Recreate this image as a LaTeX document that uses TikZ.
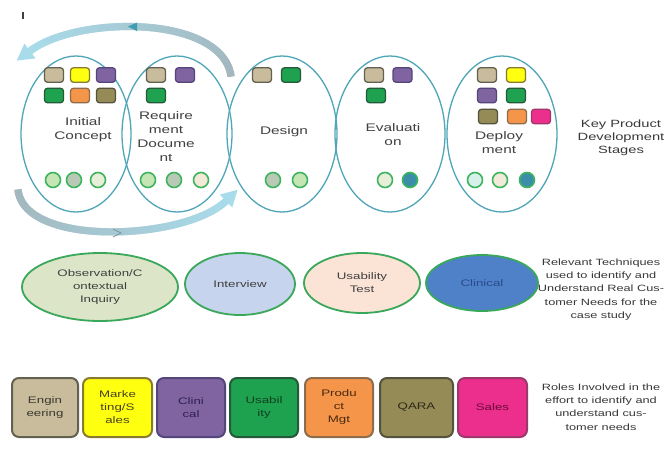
\documentclass[tikz,border=0pt]{standalone}
\usepackage{fontspec}
\setmainfont{Liberation Sans}[FakeStretch=1.4]
\usetikzlibrary{shapes.geometric,decorations.markings}

% outlines and bands
\definecolor{stageline}{HTML}{4FA6B8}
\definecolor{arcblue}{HTML}{A8DCEB}
\definecolor{arcgray}{HTML}{A3B7BE}
\definecolor{arcteal}{HTML}{3E9EB0}
\definecolor{dotgreen}{HTML}{3DB55E}
\definecolor{techgreen}{HTML}{3AA85A}
\definecolor{labelgray}{HTML}{404040}
\definecolor{sidegray}{HTML}{383838}
% role colours (fill / border / text)
\definecolor{tanF}{HTML}{C9BC9C}\definecolor{tanB}{HTML}{62604F}\definecolor{tanT}{HTML}{3A3A30}
\definecolor{yelF}{HTML}{FFFF10}\definecolor{yelB}{HTML}{8A7A2E}\definecolor{yelT}{HTML}{4A4020}
\definecolor{purF}{HTML}{8064A2}\definecolor{purB}{HTML}{54467A}\definecolor{purT}{HTML}{2E2050}
\definecolor{grnF}{HTML}{1FA24F}\definecolor{grnB}{HTML}{245A3A}\definecolor{grnT}{HTML}{0F4020}
\definecolor{ornF}{HTML}{F5954A}\definecolor{ornB}{HTML}{8E6C4C}\definecolor{ornT}{HTML}{4A2A10}
\definecolor{olvF}{HTML}{958B57}\definecolor{olvB}{HTML}{55533F}\definecolor{olvT}{HTML}{2E2A18}
\definecolor{pnkF}{HTML}{EC2E8C}\definecolor{pnkB}{HTML}{9C386C}\definecolor{pnkT}{HTML}{6A0A3A}
% technique fills
\definecolor{obsF}{HTML}{DCE5C8}
\definecolor{intF}{HTML}{C6D4EE}
\definecolor{useF}{HTML}{FBE3D5}
\definecolor{cliF}{HTML}{4F81C8}
\definecolor{cliT}{HTML}{2A4A8A}
% small circle fills
\definecolor{cA}{HTML}{C5E5B5}
\definecolor{cB}{HTML}{B9C9B6}
\definecolor{cC}{HTML}{E9EED8}
\definecolor{cD}{HTML}{F2E9D8}
\definecolor{cE}{HTML}{D8F0EC}
\definecolor{cT}{HTML}{3A8EA8}

\begin{document}
\begin{tikzpicture}[x=1pt,y=-1pt,
  stage/.style={ellipse, draw=stageline, line width=1.3pt,
    minimum width=110pt, minimum height=156pt, inner sep=0pt},
  lbl/.style={align=center, font=\fontsize{11}{14}\selectfont,
    text=labelgray, inner sep=0pt},
  sq/.style={rectangle, rounded corners=3pt, line width=1.3pt,
    minimum width=19pt, minimum height=14.5pt, inner sep=0pt},
  dot/.style={circle, draw=dotgreen, line width=1.6pt,
    minimum size=15pt, inner sep=0pt},
  tech/.style={ellipse, draw=techgreen, line width=1.8pt, inner sep=0pt,
    align=center, font=\fontsize{9.5}{13}\selectfont, text=labelgray},
  role/.style={rectangle, rounded corners=7pt, line width=2pt,
    minimum height=59pt, inner sep=0pt, align=center,
    font=\fontsize{9.5}{13}\selectfont},
  side/.style={align=center, font=\fontsize{9.1}{13.3}\selectfont,
    text=sidegray, inner sep=0pt},
  band/.style={decorate, decoration={markings,
    mark=between positions 0 and 1 step 0.8pt with {
      \pgfmathtruncatemacro\pc{\pgfkeysvalueof{/pgf/decoration/mark info/distance from start}/\pgfdecoratedpathlength*100}
      \fill[arcblue!\pc!arcgray] (-0.7pt,-3.6pt) rectangle (0.7pt,3.6pt);}}}
]
\clip (0,0) rectangle (667,448);
\fill[white] (0,0) rectangle (667,448);

% stray tick at the top left
\draw[line width=1.2pt, labelgray] (23,12) -- (23,19);

% ---- product development stages ----
\node[stage] (s1) at (76,134) {};
\node[stage] (s2) at (177,134) {};
\node[stage] (s3) at (282,134) {};
\node[stage] (s4) at (390,134) {};
\node[stage] (s5) at (502,134) {};

\node[lbl] (s1t) at (83,130) {Initial\\Concept};
\node[lbl] (s2t) at (166,137) {Require\\ment\\Docume\\nt};
\node[lbl] (s3t) at (284,132) {Design};
\node[lbl] (s4t) at (393,135) {Evaluati\\on};
\node[lbl] (s5t) at (499,143) {Deploy\\ment};

% roles present in each stage
\node[sq, fill=tanF, draw=tanB] (s1q1) at (54,75) {};
\node[sq, fill=yelF, draw=yelB] (s1q2) at (80,75) {};
\node[sq, fill=purF, draw=purB] (s1q3) at (106,75) {};
\node[sq, fill=grnF, draw=grnB] (s1q4) at (54,95.5) {};
\node[sq, fill=ornF, draw=ornB] (s1q5) at (80,95.5) {};
\node[sq, fill=olvF, draw=olvB] (s1q6) at (106,95.5) {};

\node[sq, fill=tanF, draw=tanB] (s2q1) at (156,75) {};
\node[sq, fill=purF, draw=purB] (s2q2) at (185,75) {};
\node[sq, fill=grnF, draw=grnB] (s2q3) at (156,95.5) {};

\node[sq, fill=tanF, draw=tanB] (s3q1) at (262,75) {};
\node[sq, fill=grnF, draw=grnB] (s3q2) at (291,75) {};

\node[sq, fill=tanF, draw=tanB] (s4q1) at (374,75) {};
\node[sq, fill=purF, draw=purB] (s4q2) at (402.5,75) {};
\node[sq, fill=grnF, draw=grnB] (s4q3) at (376,95.5) {};

\node[sq, fill=tanF, draw=tanB] (s5q1) at (487,75) {};
\node[sq, fill=yelF, draw=yelB] (s5q2) at (516,75) {};
\node[sq, fill=purF, draw=purB] (s5q3) at (487,95.5) {};
\node[sq, fill=grnF, draw=grnB] (s5q4) at (516,95.5) {};
\node[sq, fill=olvF, draw=olvB] (s5q5) at (488,116.5) {};
\node[sq, fill=ornF, draw=ornB] (s5q6) at (517,116.5) {};
\node[sq, fill=pnkF, draw=pnkB] (s5q7) at (541,116.5) {};

% techniques used in each stage
\node[dot, fill=cA] (s1c1) at (53,180) {};
\node[dot, fill=cB] (s1c2) at (74,180) {};
\node[dot, fill=cC] (s1c3) at (98,180) {};
\node[dot, fill=cA] (s2c1) at (148,180) {};
\node[dot, fill=cB] (s2c2) at (174,180) {};
\node[dot, fill=cD] (s2c3) at (201,180) {};
\node[dot, fill=cB] (s3c1) at (273,180) {};
\node[dot, fill=cA] (s3c2) at (300,180) {};
\node[dot, fill=cC] (s4c1) at (385,180) {};
\node[dot, fill=cT] (s4c2) at (410,180) {};
\node[dot, fill=cE] (s5c1) at (475,180) {};
\node[dot, fill=cD] (s5c2) at (500,180) {};
\node[dot, fill=cT] (s5c3) at (527,180) {};

% circular arrows round the first two stages
\path[band] (231,76) .. controls (222,15) and (78,15) .. (30,51);
\fill[arcblue] (35.6,58.4) -- (16.8,60.6) -- (24.4,43.6) -- cycle;
\fill[arcteal] (128,26.5) -- (137,22.5) -- (137,31) -- cycle;

\path[band] (18,190) .. controls (25,248) and (186,240) .. (226,201);
\fill[arcblue] (232.3,207.4) -- (237.5,189.8) -- (219.7,194.6) -- cycle;
\draw[arcgray!80!black, line width=0.8pt] (113,229) -- (121,233) -- (113,237);

\node[side, font=\fontsize{10.5}{12.8}\selectfont] (stg) at (621,138)
  {Key Product\\Development\\Stages};

% ---- techniques ----
\node[tech, fill=obsF, minimum width=156pt, minimum height=68pt] (obs) at (100,287)
  {Observation/C\\ontextual\\Inquiry};
\node[tech, fill=intF, minimum width=110pt, minimum height=62pt] (int) at (240,284)
  {Interview};
\node[tech, fill=useF, minimum width=116pt, minimum height=60pt] (use) at (362,283)
  {Usability\\Test};
\node[tech, fill=cliF, text=cliT, minimum width=112pt, minimum height=56pt] (cli) at (482,283)
  {Clinical};

\node[side] (tec) at (601,289.5)
  {Relevant Techniques\\used to identify and\\Understand Real Cus-\\tomer Needs for the\\case study};

% ---- roles ----
\node[role, fill=tanF, draw=tanB, text=tanT, minimum width=66pt] (eng) at (45,407.5) {Engin\\eering};
\node[role, fill=yelF, draw=yelB, text=yelT, minimum width=69pt] (mkt) at (117.5,407.5) {Marke\\ting/S\\ales};
\node[role, fill=purF, draw=purB, text=purT, minimum width=68pt] (cln) at (191,407.5) {Clini\\cal};
\node[role, fill=grnF, draw=grnB, text=grnT, minimum width=68pt] (usb) at (264,407.5) {Usabil\\ity};
\node[role, fill=ornF, draw=ornB, text=ornT, minimum width=68pt] (prd) at (339,407.5) {Produ\\ct\\Mgt};
\node[role, fill=olvF, draw=olvB, text=olvT, minimum width=73pt] (qar) at (416.5,407.5) {QARA};
\node[role, fill=pnkF, draw=pnkB, text=pnkT, minimum width=69pt] (sls) at (492.5,407.5) {Sales};

\node[side] (rol) at (601,407)
  {Roles Involved in the\\effort to identify and\\understand cus-\\tomer needs};
\end{tikzpicture}
\end{document}
